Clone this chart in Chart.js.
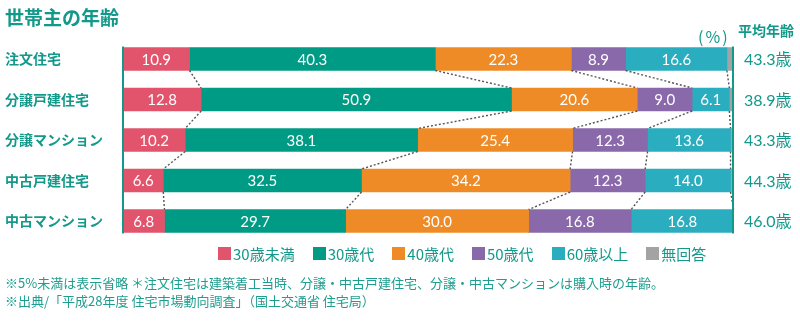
<!DOCTYPE html>
<html><head><meta charset="utf-8">
<script src="https://cdn.jsdelivr.net/npm/chart.js@4.4.1/dist/chart.umd.min.js"></script>
<style>
html,body{margin:0;padding:0;background:#fff;}
#wrap{position:relative;width:800px;height:322px;overflow:hidden;font-family:'Noto Sans CJK JP',sans-serif;color:#12998A;}
#c{position:absolute;left:0;top:0;}
.abs{position:absolute;white-space:nowrap;line-height:1;}
#title{left:5px;top:7px;font-size:19px;font-weight:700;}
#pct{left:698px;top:28px;font-size:16px;letter-spacing:2px;}
#avgh{left:738px;top:23px;font-size:14px;font-weight:700;}
#legend{left:218px;top:246px;font-size:15px;display:flex;}
#legend .it{display:flex;align-items:center;margin-right:18px;}
#legend .bx{width:13px;height:13px;margin-right:2px;}
#notes{left:5px;top:274px;font-size:13px;line-height:18px;color:#1E9E8E;}
</style></head>
<body><div id="wrap">
<canvas id="c" width="800" height="322"></canvas>
<div id="title" class="abs">世帯主の年齢</div>
<div id="pct" class="abs">(%)</div>
<div id="avgh" class="abs">平均年齢</div>
<div id="legend" class="abs"></div>
<div id="notes" class="abs">※5%未満は表示省略 ＊注文住宅は建築着工当時、分譲・中古戸建住宅、分譲・中古マンションは購入時の年齢。<br>※出典/「平成28年度 住宅市場動向調査」（国土交通省 住宅局）</div>
</div>
<script>
const categories = ['注文住宅','分譲戸建住宅','分譲マンション','中古戸建住宅','中古マンション'];
const seriesNames = ['30歳未満','30歳代','40歳代','50歳代','60歳以上','無回答'];
const under30  = [10.9, 12.8, 10.2, 6.6, 6.8];
const age30s   = [40.3, 50.9, 38.1, 32.5, 29.7];
const age40s   = [22.3, 20.6, 25.4, 34.2, 30.0];
const age50s   = [8.9, 9.0, 12.3, 12.3, 16.8];
const over60   = [16.6, 6.1, 13.6, 14.0, 16.8];
const noAnswer = [1.0, 0.6, 0.4, 0.4, 0.0];
const avgAge   = [43.3, 38.9, 43.3, 44.3, 46.0];
const colors = ['#E1546B','#009B85','#EF8B26','#8A69AB','#2BADC0','#A3A3A3'];
const TEAL = '#12998A';

const seriesValues = [under30, age30s, age40s, age50s, over60, noAnswer];

// HTML legend
const lg = document.getElementById('legend');
seriesNames.forEach((n,i)=>{
  const it = document.createElement('div'); it.className='it';
  const bx = document.createElement('span'); bx.className='bx'; bx.style.background=colors[i];
  const tx = document.createElement('span'); tx.textContent=n;
  it.appendChild(bx); it.appendChild(tx); lg.appendChild(it);
});

const overlay = {
  id:'overlay',
  afterDatasetsDraw(chart){
    const ctx = chart.ctx;
    const xs = chart.scales.x;
    const metas = seriesValues.map((_,d)=>chart.getDatasetMeta(d));
    // connectors
    ctx.save();
    ctx.strokeStyle = '#555';
    ctx.lineWidth = 1.4;
    ctx.setLineDash([2,2]);
    for(let d=0; d<5; d++){
      const els = metas[d].data;
      for(let r=0; r<els.length-1; r++){
        const a = els[r], b = els[r+1];
        ctx.beginPath();
        ctx.moveTo(a.x, a.y + a.height/2);
        ctx.lineTo(b.x, b.y - b.height/2);
        ctx.stroke();
      }
    }
    ctx.restore();
    // axis lines
    const first = metas[0].data[0], last = metas[0].data[metas[0].data.length-1];
    const yTop = first.y - first.height/2 - 1, yBot = last.y + last.height/2 + 1;
    ctx.save();
    ctx.strokeStyle = TEAL; ctx.lineWidth = 2;
    [xs.getPixelForValue(0), xs.getPixelForValue(100)].forEach(x=>{
      ctx.beginPath(); ctx.moveTo(x, yTop); ctx.lineTo(x, yBot); ctx.stroke();
    });
    ctx.restore();
    // data labels
    ctx.save();
    ctx.font = '15px Lato, "Noto Sans CJK JP", sans-serif';
    ctx.fillStyle = '#fff';
    ctx.textAlign = 'center'; ctx.textBaseline = 'middle';
    for(let d=0; d<5; d++){
      metas[d].data.forEach((el,r)=>{
        const v = seriesValues[d][r];
        if(v >= 5) ctx.fillText(v.toFixed(1), (el.x + el.base)/2, el.y + 1);
      });
    }
    // average ages
    ctx.font = '16px Lato, "Noto Sans CJK JP", sans-serif';
    ctx.fillStyle = TEAL;
    ctx.textAlign = 'left';
    metas[0].data.forEach((el,r)=>{
      ctx.fillText(avgAge[r].toFixed(1) + '歳', 744, el.y + 1);
    });
    ctx.restore();
  }
};

new Chart(document.getElementById('c'), {
  type:'bar',
  data:{
    labels: categories,
    datasets: seriesNames.map((n,i)=>({
      label:n, data:seriesValues[i], backgroundColor:colors[i], borderWidth:0, barThickness:23
    }))
  },
  options:{
    indexAxis:'y',
    responsive:false,
    animation:false,
    devicePixelRatio:1,
    layout:{padding:{left:5,right:67,top:38.75,bottom:80.75}},
    plugins:{legend:{display:false}, tooltip:{enabled:false}, title:{display:false}},
    scales:{
      x:{stacked:true, min:0, max:100, display:false},
      y:{stacked:true, grid:{display:false}, border:{display:false},
         afterFit(s){ s.width = 118; },
         ticks:{crossAlign:'far', color:TEAL, padding:0,
                font:{family:'"Noto Sans CJK JP", sans-serif', size:14, weight:'bold'}}}
    }
  },
  plugins:[overlay]
});
</script>
</body></html>
